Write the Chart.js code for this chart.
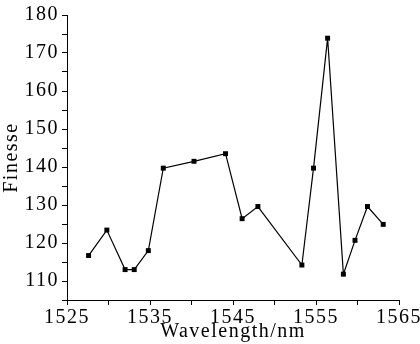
<!DOCTYPE html>
<html>
<head>
<meta charset="utf-8">
<script src="https://cdn.jsdelivr.net/npm/chart.js@4"></script>
<style>
  html, body { margin: 0; padding: 0; background: #fff; }
  #wrap { width: 420px; height: 344px; }
</style>
</head>
<body>
<div id="wrap"><canvas id="finesseChart"></canvas></div>
<script>
// measured points (wavelength in nm, finesse)
const wavelengths = [1527.6, 1529.8, 1532.0, 1533.1, 1534.8, 1536.6, 1540.3, 1544.1, 1546.1, 1548.0, 1553.3, 1554.7, 1556.4, 1558.3, 1559.7, 1561.2, 1563.1];
const finesse = [116.7, 123.4, 113.0, 113.0, 118.0, 139.7, 141.5, 143.5, 126.4, 129.6, 114.2, 139.7, 173.9, 111.8, 120.7, 129.6, 124.9];
const xTicks = [1525, 1535, 1545, 1555, 1565];
const yTicks = [110, 120, 130, 140, 150, 160, 170, 180];

const serif = 'Liberation Serif';

// the original type is a bit wider, spread the letters a little (draw only, not layout)
const spacing = {
  id: 'spacing',
  beforeDraw(chart) { chart.ctx.letterSpacing = '1.5px'; }
};

window.addEventListener('DOMContentLoaded', function () {
  const ctx = document.getElementById('finesseChart').getContext('2d');

  new Chart(ctx, {
    type: 'line',
    data: {
      datasets: [{
        data: wavelengths.map((w, i) => ({ x: w, y: finesse[i] })),
        borderColor: '#000',
        borderWidth: 1.2,
        backgroundColor: '#000',
        pointStyle: 'rect',
        pointRadius: 3.5,
        pointBorderWidth: 0,
        tension: 0
      }]
    },
    options: {
      responsive: true,
      maintainAspectRatio: false,
      animation: false,
      layout: { padding: { top: 15, right: 21, left: 0, bottom: 0 } },
      plugins: { legend: { display: false }, tooltip: { enabled: false } },
      scales: {
        x: {
          type: 'linear',
          min: 1525,
          max: 1565,
          ticks: {
            stepSize: 5,
            color: '#000',
            padding: 1,
            maxRotation: 0,
            autoSkip: false,
            font: { family: serif, size: 20 },
            callback: (v) => xTicks.includes(v) ? v : ''
          },
          grid: { drawOnChartArea: false, color: '#000', tickLength: 5 },
          border: { color: '#000', width: 1 },
          title: {
            display: true,
            text: 'Wavelength/nm',
            color: '#000',
            font: { family: serif, size: 20 },
            padding: { top: -2, bottom: 0 }
          },
          afterFit: (s) => { s.height = 44; }
        },
        y: {
          min: 105,
          max: 180,
          ticks: {
            stepSize: 5,
            color: '#000',
            padding: 3,
            autoSkip: false,
            font: { family: serif, size: 20 },
            callback: (v) => yTicks.includes(v) ? v : ''
          },
          grid: { drawOnChartArea: false, color: '#000', tickLength: 5 },
          border: { color: '#000', width: 1 },
          title: {
            display: true,
            text: 'Finesse',
            color: '#000',
            font: { family: serif, size: 20 },
            padding: { top: 0, bottom: 0 }
          },
          afterFit: (s) => { s.width = 67; }
        }
      }
    },
    plugins: [spacing]
  });
});
</script>
</body>
</html>
